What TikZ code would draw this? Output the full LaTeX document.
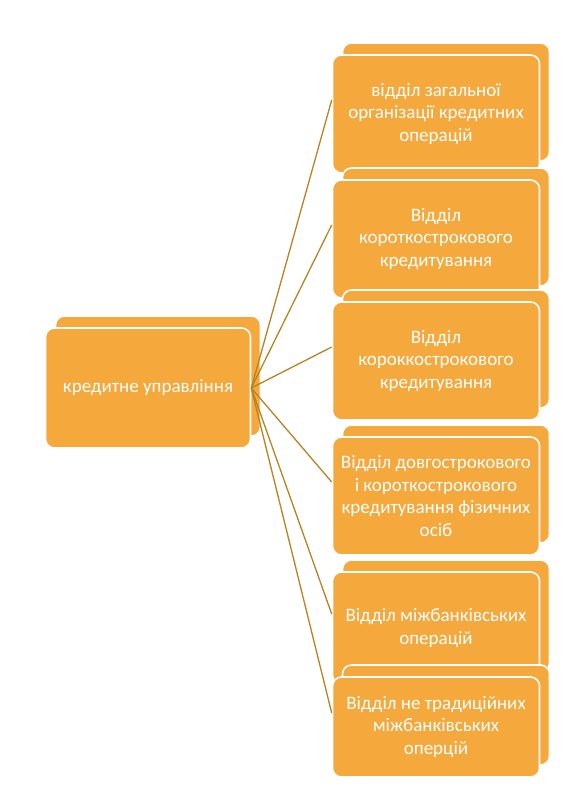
\documentclass[tikz,border=0pt]{standalone}
\usepackage{fontspec}
\setmainfont{Carlito}
\usetikzlibrary{shadows}
\definecolor{boxorange}{RGB}{245,168,60}
\definecolor{linkbrown}{RGB}{185,130,35}
\begin{document}
\begin{tikzpicture}[x = 1pt, y = -1pt,
    unit/.style = {rectangle, rounded corners = 9pt, fill = boxorange,
                   draw = white, line width = 1.6pt, text = white,
                   align = center, inner sep = 3pt,
                   font = \fontsize{19}{22.5}\selectfont,
                   minimum width = 207pt, minimum height = 118pt,
                   copy shadow = {shadow xshift = 10pt, shadow yshift = 12pt}},
    link/.style = {linkbrown, line width = 1.3pt}]
  \useasboundingbox (0,0) rectangle (576,810);
  \node [unit, minimum width = 205pt, minimum height = 120pt]
    (krd) at (148,388) {кредитне управління};
  \node [unit] (v1) at (436,114)
    {відділ загальної\\організації кредитних\\операцій};
  \node [unit] (v2) at (436,239)
    {Відділ\\короткострокового\\кредитування};
  \node [unit] (v3) at (436,361)
    {Відділ\\короккострокового\\кредитування};
  \node [unit] (v4) at (436,496)
    {Відділ довгострокового\\і короткострокового\\кредитування фізичних\\осіб};
  \node [unit, minimum height = 112pt] (v5) at (436,628)
    {Відділ міжбанківських\\операцій};
  \node [unit, minimum height = 100pt] (v6) at (436,727)
    {Відділ не традиційних\\міжбанківських\\оперцій};
  \foreach \n in {v1,v2,v3,v4,v5,v6}
    \draw [link] (krd.east) -- ([yshift = 14pt]\n.west);
\end{tikzpicture}
\end{document}
